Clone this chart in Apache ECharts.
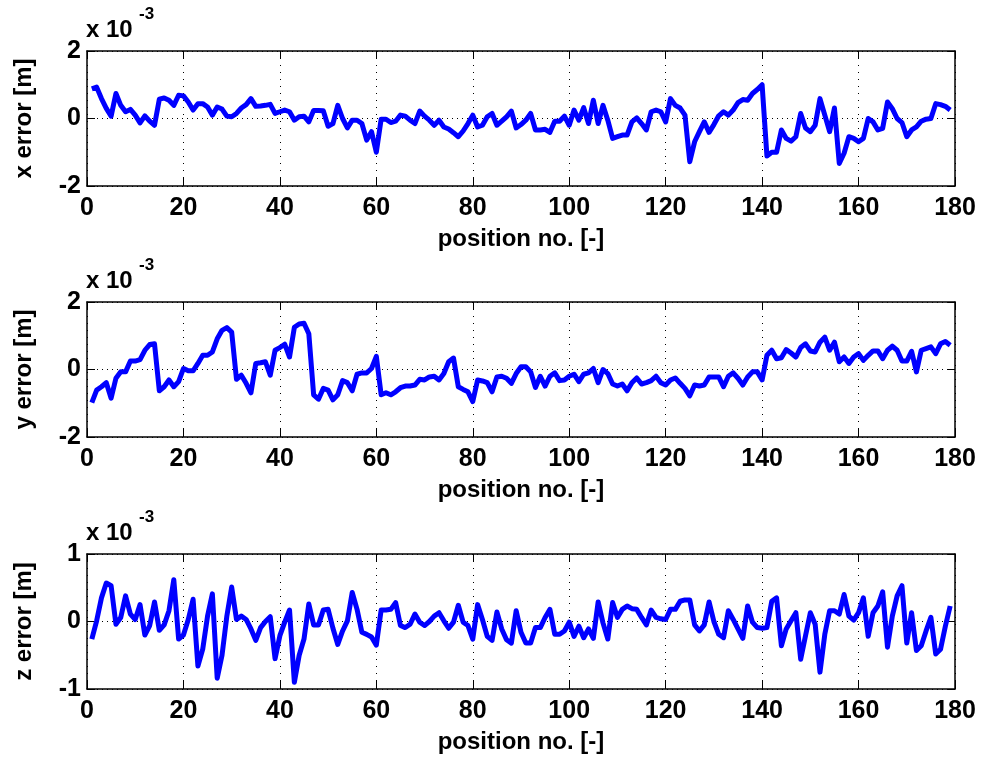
<!DOCTYPE html>
<html>
<head>
<meta charset="utf-8">
<script src="https://cdn.jsdelivr.net/npm/echarts@6/dist/echarts.min.js"></script>
<style>
  html, body { margin: 0; padding: 0; background: #fff; }
  #main { width: 981px; height: 760px; }
</style>
</head>
<body>
<div id="main"></div>
<script>
// errors in units of 1e-3 m, position no. 1..179
var xError = [
  0.88, 0.93, 0.59, 0.3, 0.07, 0.74, 0.39, 0.2, 0.27, 0.1,
  -0.13, 0.08, -0.08, -0.2, 0.57, 0.61, 0.54, 0.39, 0.69, 0.67,
  0.49, 0.25, 0.44, 0.44, 0.34, 0.1, 0.34, 0.28, 0.07, 0.05,
  0.15, 0.31, 0.41, 0.59, 0.36, 0.37, 0.39, 0.42, 0.15, 0.2,
  0.25, 0.2, -0.05, 0.05, 0.07, -0.1, 0.24, 0.24, 0.23, -0.23,
  -0.15, 0.39, 0, -0.28, -0.05, -0.05, -0.15, -0.64, -0.39, -1.0,
  -0.02, -0.02, -0.12, -0.08, 0.1, 0.07, -0.05, -0.15, 0.22, 0.07,
  -0.05, -0.2, -0.05, -0.25, -0.31, -0.42, -0.54, -0.37, -0.15, 0.1,
  -0.25, -0.2, 0.05, 0.15, -0.2, -0.08, 0.05, 0.22, -0.28, -0.18,
  -0.05, 0.15, -0.34, -0.34, -0.32, -0.41, -0.08, -0.08, 0.07, -0.2,
  0.25, -0.05, 0.32, -0.15, 0.54, -0.15, 0.39, -0.05, -0.59, -0.54,
  -0.49, -0.49, -0.1, 0.02, -0.15, -0.34, 0.2, 0.25, 0.2, -0.1,
  0.59, 0.39, 0.31, 0.1, -1.28, -0.69, -0.39, -0.1, -0.41, -0.18,
  0.08, 0.2, 0.1, 0.25, 0.47, 0.56, 0.54, 0.74, 0.86, 1.0,
  -1.11, -1.0, -1.0, -0.34, -0.59, -0.67, -0.54, 0.15, -0.28, -0.39,
  -0.2, 0.59, 0.1, -0.39, 0.31, -1.33, -1.03, -0.54, -0.59, -0.69,
  -0.59, 0, -0.1, -0.34, -0.29, 0.49, 0.29, 0, -0.12, -0.54,
  -0.34, -0.25, -0.08, -0.02, 0, 0.44, 0.41, 0.36, 0.25
];
var yError = [
  -0.98, -0.61, -0.51, -0.39, -0.85, -0.26, -0.07, -0.07, 0.25, 0.25,
  0.29, 0.57, 0.74, 0.76, -0.63, -0.51, -0.31, -0.51, -0.36, 0.03,
  -0.04, -0.04, 0.18, 0.42, 0.42, 0.52, 0.91, 1.16, 1.24, 1.11,
  -0.29, -0.17, -0.41, -0.69, 0.18, 0.2, 0.23, -0.17, 0.57, 0.65,
  0.75, 0.37, 1.25, 1.35, 1.37, 1.06, -0.75, -0.88, -0.56, -0.61,
  -0.9, -0.75, -0.33, -0.39, -0.63, -0.14, -0.1, -0.1, 0.03, 0.39,
  -0.75, -0.69, -0.75, -0.66, -0.54, -0.49, -0.49, -0.46, -0.29, -0.31,
  -0.22, -0.2, -0.31, -0.12, 0.23, 0.34, -0.51, -0.59, -0.66, -0.95,
  -0.31, -0.34, -0.39, -0.66, -0.22, -0.2, -0.26, -0.41, -0.12, 0.08,
  0.08, -0.07, -0.53, -0.2, -0.49, -0.2, -0.1, -0.33, -0.31, -0.2,
  -0.14, -0.36, -0.14, -0.1, 0.03, -0.39, 0, -0.12, -0.43, -0.49,
  -0.43, -0.63, -0.39, -0.25, -0.43, -0.39, -0.33, -0.2, -0.39, -0.46,
  -0.31, -0.25, -0.41, -0.56, -0.78, -0.46, -0.49, -0.46, -0.22, -0.22,
  -0.22, -0.51, -0.2, -0.1, -0.26, -0.46, -0.22, -0.07, -0.07, -0.31,
  0.42, 0.57, 0.32, 0.35, 0.59, 0.49, 0.37, 0.65, 0.76, 0.55,
  0.52, 0.81, 0.96, 0.57, 0.81, 0.23, 0.37, 0.18, 0.37, 0.47,
  0.27, 0.42, 0.55, 0.55, 0.32, 0.57, 0.69, 0.57, 0.25, 0.25,
  0.54, -0.07, 0.57, 0.62, 0.67, 0.47, 0.76, 0.83, 0.72
];
var zError = [
  -0.26, 0.01, 0.35, 0.57, 0.53, -0.04, 0.06, 0.38, 0.11, 0.03,
  0.25, -0.2, -0.06, 0.29, -0.13, -0.05, 0.16, 0.62, -0.26, -0.2,
  0.03, 0.33, -0.66, -0.41, 0.08, 0.41, -0.84, -0.5, 0.08, 0.51,
  0.03, 0.08, 0.03, -0.11, -0.28, -0.09, 0, 0.07, -0.55, -0.21,
  -0.01, 0.17, -0.9, -0.5, -0.26, 0.26, -0.05, -0.05, 0.17, 0.18,
  -0.1, -0.34, -0.14, 0.01, 0.43, 0.18, -0.16, -0.19, -0.23, -0.35,
  0.17, 0.17, 0.18, 0.28, -0.06, -0.09, -0.04, 0.11, -0.01, -0.06,
  0, 0.08, 0.13, 0.01, -0.1, -0.01, 0.24, -0.01, -0.06, -0.26,
  0.25, 0.03, -0.22, -0.28, 0.14, -0.11, -0.27, -0.32, 0.16, -0.16,
  -0.32, -0.32, -0.09, -0.09, 0.06, 0.18, -0.19, -0.19, -0.14, -0.01,
  -0.22, -0.07, -0.24, -0.11, -0.25, 0.29, -0.02, -0.26, 0.28, 0.06,
  0.18, 0.23, 0.19, 0.18, 0.06, -0.05, 0.17, 0.06, 0.04, 0.03,
  0.18, 0.18, 0.3, 0.32, 0.32, -0.05, -0.14, -0.05, 0.29, 0,
  -0.19, -0.24, 0.16, 0.03, -0.11, -0.25, 0.23, -0.01, -0.09, -0.1,
  -0.09, 0.3, 0.35, -0.36, -0.11, 0.01, 0.13, -0.56, -0.21, 0.13,
  -0.04, -0.75, -0.19, 0.16, 0.16, 0.11, 0.4, 0.08, 0.02, 0.13,
  0.35, -0.22, 0.13, 0.23, 0.44, -0.38, 0.08, 0.38, 0.53, -0.32,
  0.13, -0.43, -0.36, -0.14, 0.06, -0.48, -0.41, -0.07, 0.23
];
var yNames = ['x error [m]', 'y error [m]', 'z error [m]'];
var yMin = [-2, -2, -1];
var yMax = [2, 2, 1];
var yStep = [2, 2, 1];
var xName = 'position no. [-]';

var font = "'Liberation Sans', Arial, sans-serif";
var gridTop = [51, 302, 554];
var plotH = 135;
var allData = [xError, yError, zError];

var grids = [], xAxes = [], yAxes = [], series = [], graphics = [];

for (var i = 0; i < 3; i++) {
  grids.push({ left: 87, right: 26, top: gridTop[i], height: plotH });

  // bottom + top x axes (matlab box with ticks inside)
  xAxes.push({
    gridIndex: i, type: 'value', min: 0, max: 180, interval: 20, position: 'bottom',
    axisLine: { show: true, onZero: false, lineStyle: { color: '#000', width: 1.5 } },
    axisTick: { show: true, inside: true, length: 8, lineStyle: { color: '#000', width: 1 } },
    axisLabel: { color: '#000', fontSize: 25, fontWeight: 'bold', fontFamily: font, margin: 10 },
    splitLine: { show: true, lineStyle: { color: '#000', width: 1, type: [1, 6] } },
    name: xName, nameLocation: 'middle', nameGap: 41,
    nameTextStyle: { color: '#000', fontSize: 24, fontWeight: 'bold', fontFamily: font }
  });
  xAxes.push({
    gridIndex: i, type: 'value', min: 0, max: 180, interval: 20, position: 'top',
    axisLine: { show: true, onZero: false, lineStyle: { color: '#000', width: 1.5 } },
    axisTick: { show: true, inside: true, length: 8, lineStyle: { color: '#000', width: 1 } },
    axisLabel: { show: false },
    splitLine: { show: false }
  });

  yAxes.push({
    gridIndex: i, type: 'value', min: yMin[i], max: yMax[i], interval: yStep[i], position: 'left',
    axisLine: { show: true, onZero: false, lineStyle: { color: '#000', width: 1.5 } },
    axisTick: { show: true, inside: true, length: 8, lineStyle: { color: '#000', width: 1 } },
    axisLabel: { color: '#000', fontSize: 25, fontWeight: 'bold', fontFamily: font, margin: 6 },
    splitLine: { show: true, lineStyle: { color: '#000', width: 1, type: [1, 4] } },
    name: yNames[i], nameLocation: 'middle', nameGap: 51,
    nameTextStyle: { color: '#000', fontSize: 24, fontWeight: 'bold', fontFamily: font }
  });
  yAxes.push({
    gridIndex: i, type: 'value', min: yMin[i], max: yMax[i], interval: yStep[i], position: 'right',
    axisLine: { show: true, onZero: false, lineStyle: { color: '#000', width: 1.5 } },
    axisTick: { show: true, inside: true, length: 8, lineStyle: { color: '#000', width: 1 } },
    axisLabel: { show: false },
    splitLine: { show: false }
  });

  series.push({
    type: 'line', xAxisIndex: 2 * i, yAxisIndex: 2 * i,
    data: allData[i].map(function (v, k) { return [k + 1, v]; }),
    showSymbol: false, symbol: 'none',
    lineStyle: { color: '#0000ff', width: 5, join: 'round' },
    z: 3
  });

  // exponent label "x 10^-3"
  graphics.push({
    type: 'text', left: 86, top: gridTop[i] - 33,
    style: { text: 'x 10', fill: '#000', font: 'bold 24px ' + font }
  });
  graphics.push({
    type: 'text', left: 139, top: gridTop[i] - 45,
    style: { text: '-3', fill: '#000', font: 'bold 17px ' + font }
  });
}

var chart = echarts.init(document.getElementById('main'), null, { renderer: 'canvas' });
chart.setOption({
  animation: false,
  backgroundColor: '#fff',
  grid: grids,
  xAxis: xAxes,
  yAxis: yAxes,
  series: series,
  graphic: graphics
});
</script>
</body>
</html>
